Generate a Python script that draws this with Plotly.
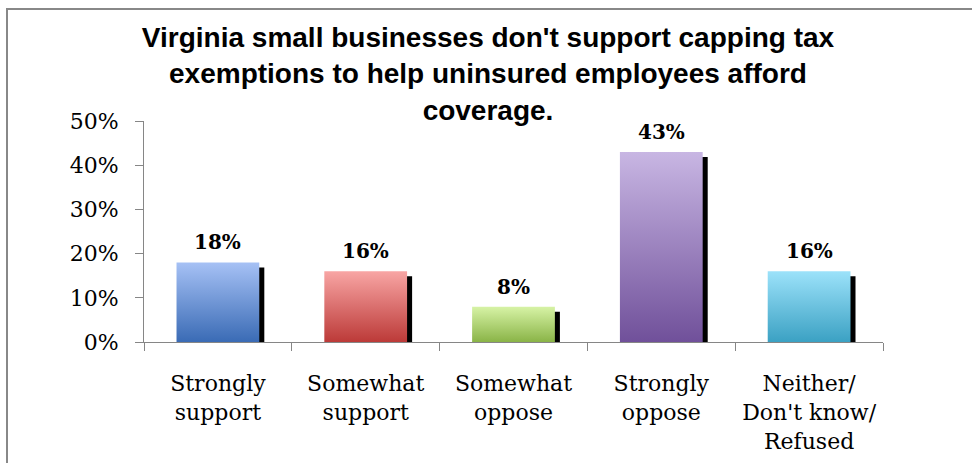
import plotly.graph_objects as go

categories = ["Strongly<br>support", "Somewhat<br>support", "Somewhat<br>oppose",
              "Strongly<br>oppose", "Neither/<br>Don't know/<br>Refused"]
values = [0.18, 0.16, 0.08, 0.43, 0.16]
labels = ["18%", "16%", "8%", "43%", "16%"]
top_colors = ["#A6C1F5", "#F8A5A4", "#D7F3A6", "#C8B6E3", "#9CE2FA"]
bottom_colors = ["#3A6BB5", "#BC3A38", "#8AB447", "#70509A", "#3BA1C3"]
y_ticks = [0, 0.1, 0.2, 0.3, 0.4, 0.5]

title = ("Virginia small businesses don't support capping tax<br>"
         "exemptions to help uninsured employees afford<br>coverage.")

BAR_W = 0.56
SHADOW_DX = 0.034      # shadow shift in category units
SHADOW_DY = 0.0113     # shadow drop in value units

fig = go.Figure()

idx = list(range(len(categories)))

# shadows (drawn first, underneath)
fig.add_trace(go.Bar(
    x=idx, y=[v - SHADOW_DY for v in values],
    width=BAR_W, offset=-BAR_W / 2 + SHADOW_DX,
    marker=dict(color="black", line=dict(width=0)),
    hoverinfo="skip", showlegend=False,
))

# gradient-filled bars
for i, v in enumerate(values):
    x0, x1 = i - BAR_W / 2, i + BAR_W / 2
    fig.add_trace(go.Scatter(
        x=[x0, x1, x1, x0, x0], y=[0, 0, v, v, 0],
        mode="lines", line=dict(width=0),
        fill="toself",
        fillgradient=dict(type="vertical",
                          colorscale=[[0, bottom_colors[i]], [1, top_colors[i]]]),
        hoverinfo="skip", showlegend=False,
    ))
    fig.add_annotation(
        x=i, y=v, text="<b>%s</b>" % labels[i], showarrow=False,
        yanchor="bottom", yshift=6,
        font=dict(family="DejaVu Serif", size=20, color="black"),
    )

axis_col = "#868686"

fig.update_layout(
    width=972, height=463,
    margin=dict(l=144, r=89, t=121, b=121),
    paper_bgcolor="white", plot_bgcolor="white",
    barmode="overlay",
    title=dict(text="<b>%s</b>" % title, x=488 / 972, xanchor="center",
               y=1 - 47 / 463, yanchor="top", yref="container",
               font=dict(family="Liberation Sans", size=28, color="black")),
    xaxis=dict(range=[-0.5, 4.5], tickmode="array", tickvals=idx, ticktext=categories,
               ticks="", showgrid=False, zeroline=False, automargin=False,
               showline=True, linecolor=axis_col, linewidth=1,
               ticklabelstandoff=22,
               tickfont=dict(family="DejaVu Serif", size=22, color="black"),
               minor=dict(tick0=-0.5, dtick=1, ticks="outside", ticklen=8,
                          tickcolor=axis_col, tickwidth=1, showgrid=False)),
    yaxis=dict(range=[0, 0.5], tickmode="array", tickvals=y_ticks, tickformat=".0%",
               ticks="outside", ticklen=8, tickcolor=axis_col, tickwidth=1,
               showgrid=False, zeroline=False, automargin=False,
               showline=True, linecolor=axis_col, linewidth=1,
               ticklabelstandoff=12,
               tickfont=dict(family="DejaVu Serif", size=22, color="black")),
)

# outer chart frame
fig.add_shape(type="rect", xref="paper", yref="paper",
              x0=(7 - 144) / 739, x1=(990 - 144) / 739,
              y0=(342 - 480) / 221, y1=(342 - 9) / 221,
              line=dict(color="#888888", width=2), layer="below")

fig.write_html("out.html",
               config={"displayModeBar": False},
               post_script="document.body.style.margin='0';"
                           "document.body.style.overflow='hidden';")
